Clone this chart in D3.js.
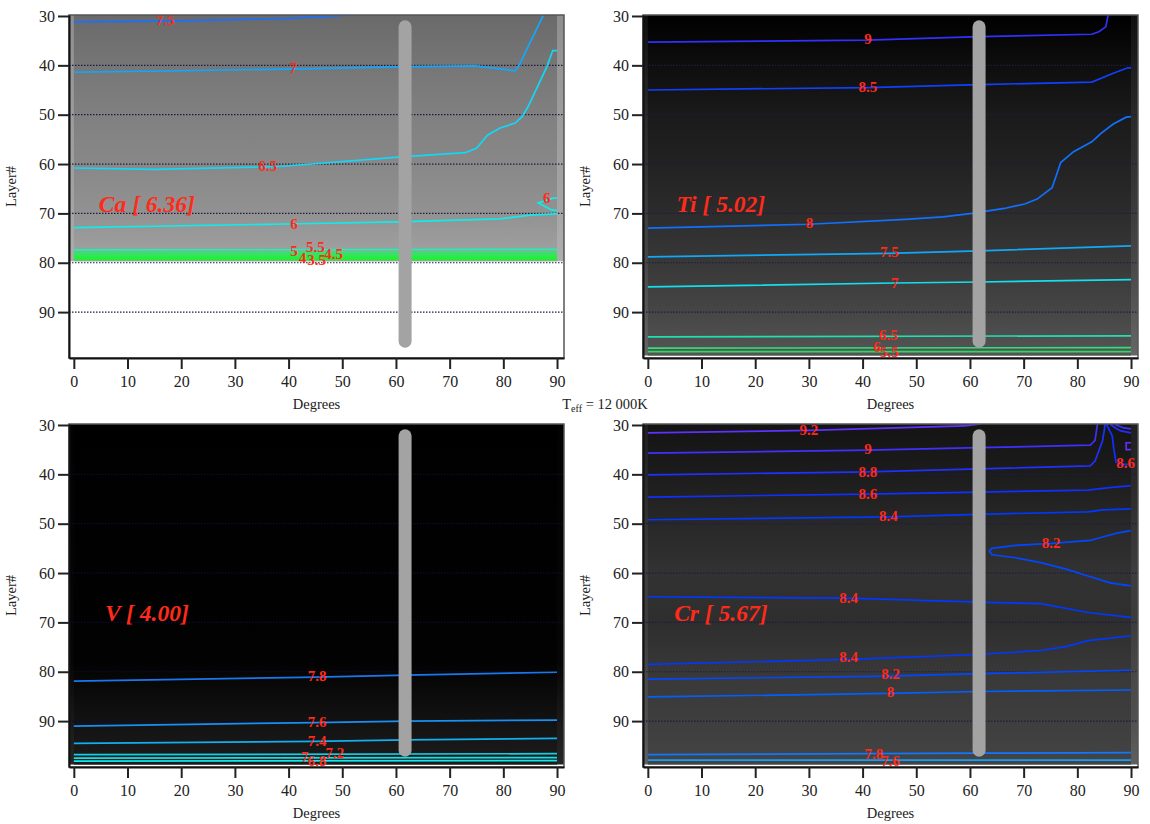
<!DOCTYPE html>
<html>
<head>
<meta charset="utf-8">
<script src="https://cdn.jsdelivr.net/npm/d3@7"></script>
<style>
body { margin: 0; background: #fff; }
svg text { font-family: "Liberation Serif", "Times New Roman", serif !important; }
.tick text { font-size: 16px; fill: #222; }
.axis-label { font-size: 14.5px; fill: #222; }
.clabel { font-size: 15px; font-weight: bold; fill: #ff2a1a; }
.elabel { font-size: 23.5px; font-weight: bold; font-style: italic; fill: #ff2a1a; }
</style>
</head>
<body>
<svg id="chart" width="1150" height="824"></svg>
<script>
// ---- data ----
const elements = ["Ca", "Ti", "V", "Cr"];
const abundances = ["6.36", "5.02", "4.00", "5.67"];
const xTicks = [0, 10, 20, 30, 40, 50, 60, 70, 80, 90];
const yTicks = [30, 40, 50, 60, 70, 80, 90];
const gridLayers = [40, 50, 60, 70, 80, 90];
const barDegree = 61.7;
const barLayers = [32.2, 95.9];

// background shading (layer -> gray level)
const caBgLayers = [30, 40, 50, 60, 70, 77, 79.7];
const caBgGray = [0x6a, 0x76, 0x80, 0x88, 0x92, 0x9e, 0xa2];
const caEdgeGray = [0x8e, 0x96, 0x9c, 0xa0, 0xa6, 0xac, 0xae];
const tiBgLayers = [30, 40, 50, 60, 70, 80, 90, 98.8];
const tiBgGray = [0x00, 0x0e, 0x1a, 0x22, 0x2c, 0x38, 0x46, 0x55];
const tiEdgeGray = [0x10, 0x1e, 0x2a, 0x32, 0x3c, 0x48, 0x58, 0x66];
const vBgLayers = [30, 78, 84, 90, 98.8];
const vBgGray = [0x00, 0x02, 0x0a, 0x12, 0x1c];
const vEdgeGray = [0x02, 0x06, 0x10, 0x1a, 0x26];
const crBgLayers = [30, 40, 50, 60, 70, 80, 90, 98.8];
const crBgGray = [0x14, 0x1c, 0x28, 0x32, 0x2e, 0x38, 0x3e, 0x44];
const crEdgeGray = [0x20, 0x28, 0x34, 0x3e, 0x3c, 0x48, 0x50, 0x60];

// contour lines: [degree, layer]
const caC75 = [[0, 31.2], [20, 31.0], [40, 30.5], [49, 30.0], [52, 29.6]];
const caC7 = [[0, 41.4], [20, 41.1], [42, 40.7], [60.4, 40.3], [74.7, 40.1], [82.2, 41.1], [83, 39.9], [84.6, 36.2], [87.4, 30], [88, 29]];
const caC65 = [[0, 60.8], [15, 61.1], [38.4, 60.5], [60.4, 58.6], [72.9, 57.7], [75, 56.8], [77.1, 54.1], [79.4, 52.7], [82.2, 51.7], [83.5, 50.4], [84.6, 48.4], [88.1, 40.3], [89.2, 37.0], [90, 37.0]];
const caC6 = [[0, 72.9], [42, 72.1], [60.4, 71.7], [79.4, 71.1], [85.5, 70.3], [90, 70.1]];
const caC6b = [[90, 66.9], [89.2, 66.9], [86.5, 67.9], [89, 69.3], [90, 69.4]];
const caC55 = [[0, 77.4], [90, 77.3]];
const caC5 = [[0, 77.9], [90, 77.9]];
const caC45 = [[0, 78.3], [90, 78.3]];
const caC4 = [[0, 78.7], [90, 78.7]];
const caC35 = [[0, 79.0], [90, 79.0]];
const caC3 = [[0, 79.35], [90, 79.35]];

const tiC9 = [[0, 35.3], [41, 34.9], [61.7, 34.2], [82.7, 33.7], [84, 33.2], [85.3, 32.2], [85.7, 30], [85.8, 29]];
const tiC85 = [[0, 45.0], [41, 44.5], [61.7, 43.9], [82.7, 43.4], [86.7, 41.6], [89.4, 40.5], [90, 40.5]];
const tiC8 = [[0, 73.0], [30, 72.2], [48, 71.2], [55, 70.7], [60.4, 70.0], [66.4, 69.0], [70.2, 68.1], [72.5, 67.1], [75.3, 64.8], [76.9, 59.7], [79.3, 57.5], [82.7, 55.5], [84.4, 53.8], [86.7, 51.9], [89.1, 50.5], [90, 50.4]];
const tiC75 = [[0, 78.8], [44.8, 78.1], [61.7, 77.6], [90, 76.6]];
const tiC7 = [[0, 84.9], [46, 84.1], [61.7, 83.9], [90, 83.4]];
const tiC65 = [[0, 95.0], [90, 94.8]];
const tiC6 = [[0, 97.3], [90, 97.2]];
const tiC55 = [[0, 98.0], [90, 98.0]];

const vC78 = [[0, 81.9], [45.2, 81.1], [62, 80.7], [90, 80.1]];
const vC76 = [[0, 91.0], [45, 90.3], [62, 90.0], [90, 89.8]];
const vC74 = [[0, 94.5], [45, 94.1], [62, 93.8], [90, 93.5]];
const vC72 = [[0, 96.8], [90, 96.6]];
const vC7 = [[0, 97.5], [90, 97.4]];
const vC68 = [[0, 98.1], [90, 98.0]];

const crC92 = [[0, 31.6], [30, 31.1], [59, 30.2], [62, 29.8]];
const crC9 = [[0, 35.7], [41, 35.1], [61.7, 34.6], [82.4, 34.1], [83.3, 33.1], [83.7, 30.2], [83.7, 29]];
const crC88 = [[0, 40.1], [41, 39.5], [61.7, 38.9], [82.4, 38.3], [83.3, 37.3], [84.7, 33.2], [85.1, 30.5], [85.1, 29]];
const crC86 = [[0, 44.6], [41, 44.0], [61.7, 43.6], [82, 43.2], [86, 42.7], [90, 42.3]];
const crC86b = [[85.5, 29], [85.5, 30], [86.5, 32.2], [86.8, 34.9], [87.2, 37.5], [88.2, 38.0], [90, 38.0]];
const crC88b = [[86.3, 29], [86.3, 30], [87.4, 30.8], [88.1, 31.2], [90, 31.6]];
const crC9b = [[87.2, 29], [87.2, 30], [88.7, 30.6], [90, 30.8]];
const crC92b = [[90, 33.6], [89.1, 33.6], [89.1, 35.0], [90, 35.0]];
const crC84a = [[0, 49.2], [44.8, 48.6], [61.7, 48.1], [82, 47.6], [84.7, 47.2], [90, 47.0]];
const crC82a = [[90, 51.4], [87.4, 51.9], [84.7, 52.7], [82.4, 53.4], [75.3, 54.0], [71.9, 54.2], [68.5, 54.4], [64.1, 55.0], [63.6, 55.5], [64.1, 56.3], [68.5, 56.9], [73.2, 57.9], [77.9, 59.2], [82, 60.6], [86.1, 62.0], [90, 62.6]];
const crC84b = [[0, 64.8], [37.4, 65.1], [61.7, 65.9], [73.2, 66.2], [82, 68.0], [90, 69.0]];
const crC84c = [[0, 78.5], [37.4, 77.5], [61.7, 76.5], [73.2, 75.7], [77.9, 74.9], [82, 73.7], [90, 72.7]];
const crC82b = [[0, 81.5], [45.2, 80.9], [61.7, 80.4], [90, 79.7]];
const crC8 = [[0, 85.1], [45.2, 84.4], [61.7, 84.0], [90, 83.7]];
const crC78 = [[0, 96.8], [61.7, 96.5], [90, 96.4]];
const crC76 = [[0, 97.9], [90, 97.9]];

const caLines = [{ level: 7.5, pts: caC75 }, { level: 7, pts: caC7 }, { level: 6.5, pts: caC65 }, { level: 6, pts: caC6 }, { level: 6, pts: caC6b },
    { level: 5.5, pts: caC55 }, { level: 5, pts: caC5 }, { level: 4.5, pts: caC45 }, { level: 4, pts: caC4 }, { level: 3.5, pts: caC35 }, { level: 3, pts: caC3 }];
const tiLines = [{ level: 9, pts: tiC9 }, { level: 8.5, pts: tiC85 }, { level: 8, pts: tiC8 }, { level: 7.5, pts: tiC75 }, { level: 7, pts: tiC7 },
    { level: 6.5, pts: tiC65 }, { level: 6, pts: tiC6 }, { level: 5.5, pts: tiC55 }];
const vLines = [{ level: 7.8, pts: vC78 }, { level: 7.6, pts: vC76 }, { level: 7.4, pts: vC74 }, { level: 7.2, pts: vC72 }, { level: 7, pts: vC7 }, { level: 6.8, pts: vC68 }];
const crLines = [{ level: 9.2, pts: crC92 }, { level: 9, pts: crC9 }, { level: 8.8, pts: crC88 }, { level: 8.6, pts: crC86 }, { level: 8.6, pts: crC86b },
    { level: 8.8, pts: crC88b }, { level: 9, pts: crC9b }, { level: 9.2, pts: crC92b }, { level: 8.4, pts: crC84a }, { level: 8.2, pts: crC82a },
    { level: 8.4, pts: crC84b }, { level: 8.4, pts: crC84c }, { level: 8.2, pts: crC82b }, { level: 8, pts: crC8 }, { level: 7.8, pts: crC78 }, { level: 7.6, pts: crC76 }];

// contour labels: [text, degree, layer]
const caLabels = [["7.5", 17, 30.8], ["7", 40.8, 40.5], ["6.5", 36.1, 60.4], ["6", 41, 72.2], ["6", 88.1, 66.9],
    ["5", 41, 77.6], ["5.5", 45, 76.9], ["4", 42.6, 79.0], ["3.5", 45.2, 79.4], ["4.5", 48.4, 78.3]];
const tiLabels = [["9", 41, 34.7], ["8.5", 41, 44.3], ["8", 30.1, 72.0], ["7.5", 45, 77.9], ["7", 46, 84.1],
    ["6.5", 44.8, 94.7], ["6", 42.7, 97.0], ["5.5", 45, 98.0]];
const vLabels = [["7.8", 45.3, 80.9], ["7.6", 45.3, 90.2], ["7.4", 45.3, 94.1], ["7.2", 48.6, 96.4], ["7", 43.0, 97.3], ["6.8", 45.3, 98.0]];
const crLabels = [["9.2", 30, 31.0], ["9", 41, 34.9], ["8.8", 41, 39.5], ["8.6", 41, 44.0], ["8.6", 89, 37.8], ["8.4", 44.8, 48.4],
    ["8.2", 75.1, 53.9], ["8.4", 37.4, 65.1], ["8.4", 37.4, 77.1], ["8.2", 45.2, 80.4], ["8", 45.2, 84.2], ["7.8", 42.1, 96.6], ["7.6", 45.2, 98.1]];

// ---- layout / style ----
const W = 495, H = 343;
const panelPos = [[69, 15], [643, 15], [69, 424], [643, 424]];

const panels = [
    { lines: caLines, labels: caLabels, bgL: caBgLayers, bgG: caBgGray, edgeG: caEdgeGray,
      color: d3.scaleLinear().domain([3, 5, 5.5, 6, 6.5, 7, 7.5]).range(["#22ee30", "#22f060", "#20f0b8", "#10ecec", "#10d8f8", "#10a8ff", "#1a70ff"]) },
    { lines: tiLines, labels: tiLabels, bgL: tiBgLayers, bgG: tiBgGray, edgeG: tiEdgeGray,
      color: d3.scaleLinear().domain([5.5, 6, 6.5, 7, 7.5, 8, 8.5, 9]).range(["#30d860", "#30e080", "#20e0b0", "#10e0f0", "#10a8f8", "#1070ff", "#1040ff", "#3030ff"]) },
    { lines: vLines, labels: vLabels, bgL: vBgLayers, bgG: vBgGray, edgeG: vEdgeGray,
      color: d3.scaleLinear().domain([6.8, 7, 7.2, 7.4, 7.6, 7.8]).range(["#10e8f0", "#10e0e8", "#10d0e8", "#10b0f0", "#1890f0", "#1878f0"]) },
    { lines: crLines, labels: crLabels, bgL: crBgLayers, bgG: crBgGray, edgeG: crEdgeGray,
      color: d3.scaleLinear().domain([7.6, 7.8, 8, 8.2, 8.4, 8.6, 8.8, 9, 9.2]).range(["#10a0ff", "#1078ff", "#0060ff", "#0048ff", "#0038ff", "#1030ff", "#2030ff", "#4030ff", "#6030ff"]) }
];

const x = d3.scaleLinear().domain([-0.9, 91.3]).range([0, W]);
const y = d3.scaleLinear().domain([29.8, 99.3]).range([0, H]);
const gray = v => d3.rgb(v, v, v).formatHex();

const svg = d3.select("#chart");
const defs = svg.append("defs");

panels.forEach((p, i) => {
    const [px, py] = panelPos[i];
    const g = svg.append("g").attr("transform", `translate(${px},${py})`);

    defs.append("clipPath").attr("id", "clip" + i)
        .append("rect").attr("width", W).attr("height", H);

    // background gradients
    const y0 = y(29.8), y1 = y(p.bgL[p.bgL.length - 1]);
    [["bg", p.bgG], ["edge", p.edgeG]].forEach(([name, vals]) => {
        const grad = defs.append("linearGradient").attr("id", name + i)
            .attr("gradientUnits", "userSpaceOnUse")
            .attr("x1", 0).attr("x2", 0).attr("y1", y0).attr("y2", y1);
        p.bgL.forEach((l, k) => {
            grad.append("stop")
                .attr("offset", Math.max(0, (y(l) - y0) / (y1 - y0)))
                .attr("stop-color", gray(vals[k]));
        });
    });

    g.append("rect").attr("x", x(-0.9)).attr("y", y0).attr("width", x(91.3) - x(-0.9)).attr("height", y1 - y0)
        .attr("fill", `url(#edge${i})`);
    g.append("rect").attr("x", x(0)).attr("y", y0).attr("width", x(90) - x(0)).attr("height", y1 - y0)
        .attr("fill", `url(#bg${i})`);

    // dotted grid
    g.selectAll(".grid").data(gridLayers).join("line")
        .attr("x1", 0).attr("x2", W)
        .attr("y1", d => y(d)).attr("y2", d => y(d))
        .attr("stroke", i === 2 ? "#0c0c30" : "#1c1c40").attr("stroke-width", 1.2)
        .attr("stroke-dasharray", "1.5,1.5");

    // contours
    const line = d3.line().x(d => x(d[0])).y(d => y(d[1]));
    g.append("g").attr("clip-path", `url(#clip${i})`)
        .selectAll("path").data(p.lines).join("path")
        .attr("d", d => line(d.pts))
        .attr("fill", "none")
        .attr("stroke", d => p.color(d.level))
        .attr("stroke-width", 1.7);

    // vertical bar
    g.append("line")
        .attr("x1", x(barDegree)).attr("x2", x(barDegree))
        .attr("y1", y(barLayers[0])).attr("y2", y(barLayers[1]))
        .attr("stroke", "#a3a3a3").attr("stroke-width", 13).attr("stroke-linecap", "round");

    // contour labels
    g.selectAll(".clabel").data(p.labels).join("text")
        .attr("class", "clabel")
        .attr("x", d => x(d[1])).attr("y", d => y(d[2]))
        .attr("text-anchor", "middle").attr("dominant-baseline", "central")
        .text(d => d[0]);

    // element label (centred)
    g.append("text").attr("class", "elabel")
        .attr("x", x(13.6)).attr("y", y(68.1))
        .attr("text-anchor", "middle")
        .attr("dominant-baseline", "central")
        .text(`${elements[i]} [ ${abundances[i]}]`);

    // frame
    g.append("rect").attr("width", W).attr("height", H)
        .attr("fill", "none").attr("stroke", "#555").attr("stroke-width", 1.5);

    // axes
    const xa = g.append("g").attr("transform", `translate(0,${H})`)
        .call(d3.axisBottom(x).tickValues(xTicks).tickSize(11).tickPadding(7).tickSizeOuter(0));
    const ya = g.append("g")
        .call(d3.axisLeft(y).tickValues(yTicks).tickSize(11).tickPadding(3).tickSizeOuter(0));
    [xa, ya].forEach(a => {
        a.attr("font-size", null).attr("font-family", null);
        a.select(".domain").attr("stroke", "#111").attr("stroke-width", 2);
        a.selectAll(".tick line").attr("stroke", "#222").attr("stroke-width", 2);
    });

    g.append("text").attr("class", "axis-label")
        .attr("x", W / 2).attr("y", H + 51)
        .attr("text-anchor", "middle").text("Degrees");
    g.append("text").attr("class", "axis-label")
        .attr("transform", `translate(${-53},${H / 2}) rotate(-90)`)
        .attr("text-anchor", "middle").text("Layer#");
});

// overall title
const title = svg.append("text").attr("class", "axis-label")
    .attr("x", 605).attr("y", 409).attr("text-anchor", "middle");
title.append("tspan").text("T");
title.append("tspan").attr("font-size", "10px").attr("dy", 3).text("eff");
title.append("tspan").attr("dy", -3).text(" = 12 000K");
</script>
</body>
</html>
